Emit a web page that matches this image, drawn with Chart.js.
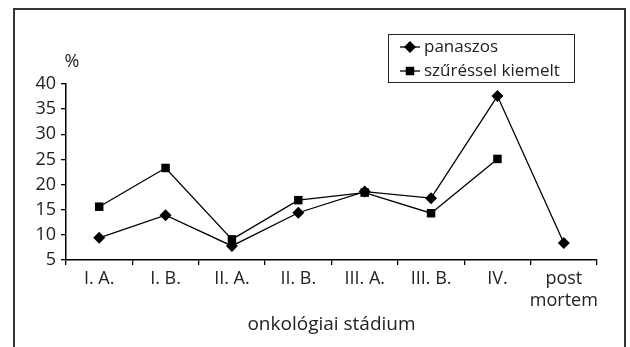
<!DOCTYPE html>
<html>
<head>
<meta charset="utf-8">
<script src="https://cdn.jsdelivr.net/npm/chart.js@4.4.1/dist/chart.umd.min.js"></script>
<style>
  body { margin: 0; background: #fff; }
</style>
</head>
<body>
<canvas id="grafikon" width="630" height="347"></canvas>
<script>
// adatok
const kategoriak = ['I. A.', 'I. B.', 'II. A.', 'II. B.', 'III. A.', 'III. B.', 'IV.', ['post', 'mortem']];
const panaszos = [9.4, 13.9, 7.8, 14.4, 18.6, 17.3, 37.6, 8.4];
const szuressel = [15.6, 23.3, 9.1, 16.9, 18.4, 14.3, 25.1, null];
const yMin = 5;
const yMax = 40;
const yLepes = 5;

const betu = "'Open Sans', sans-serif";
Chart.defaults.font.family = betu;
Chart.defaults.font.size = 18;
Chart.defaults.color = '#222';

// keret, % jel es jelmagyarazat
const keretPlugin = {
  id: 'keret',
  beforeDraw(chart) {
    const ctx = chart.ctx;
    ctx.save();
    ctx.fillStyle = '#fff';
    ctx.fillRect(0, 0, chart.width, chart.height);
    ctx.strokeStyle = '#333';
    ctx.lineWidth = 2;
    ctx.beginPath();
    ctx.moveTo(14, 360);
    ctx.lineTo(14, 9);
    ctx.lineTo(625, 9);
    ctx.lineTo(625, 360);
    ctx.stroke();
    ctx.restore();
  },
  afterDraw(chart) {
    const ctx = chart.ctx;
    ctx.save();
    ctx.fillStyle = '#222';
    ctx.font = '18px ' + betu;
    ctx.textAlign = 'center';
    ctx.textBaseline = 'middle';
    ctx.fillText('%', 72, 62);

    // jelmagyarazat doboz
    ctx.font = '17px ' + betu;
    ctx.strokeStyle = '#222';
    ctx.lineWidth = 1;
    ctx.strokeRect(388.5, 34.5, 186, 48);
    ctx.textAlign = 'left';
    chart.data.datasets.forEach((ds, i) => {
      const y = 47 + i * 24;
      ctx.strokeStyle = '#000';
      ctx.lineWidth = 1.3;
      ctx.beginPath();
      ctx.moveTo(400, y);
      ctx.lineTo(420, y);
      ctx.stroke();
      ctx.fillStyle = '#000';
      Chart.helpers.drawPoint(ctx, {
        pointStyle: ds.pointStyle,
        radius: ds.pointRadius,
        borderWidth: 0
      }, 410, y);
      ctx.fillStyle = '#222';
      ctx.fillText(ds.label, 424, y);
    });
    ctx.restore();
  }
};

const ctx = document.getElementById('grafikon').getContext('2d');
new Chart(ctx, {
  type: 'line',
  data: {
    labels: kategoriak,
    datasets: [
      {
        label: 'panaszos',
        data: panaszos,
        borderColor: '#000',
        backgroundColor: '#000',
        borderWidth: 1.3,
        pointStyle: 'rectRot',
        pointRadius: 6,
        pointBorderWidth: 0,
        tension: 0
      },
      {
        label: 'szűréssel kiemelt',
        data: szuressel,
        borderColor: '#000',
        backgroundColor: '#000',
        borderWidth: 1.3,
        pointStyle: 'rect',
        pointRadius: 6,
        pointBorderWidth: 0,
        tension: 0
      }
    ]
  },
  options: {
    responsive: false,
    animation: false,
    layout: { padding: { top: 84, right: 33, bottom: 11, left: 0 } },
    plugins: {
      legend: { display: false },
      tooltip: { enabled: false }
    },
    scales: {
      x: {
        offset: true,
        grid: { offset: true, drawOnChartArea: false, drawTicks: true, tickLength: 5, color: '#000', lineWidth: 1.3 },
        border: { color: '#000', width: 1.5 },
        ticks: { padding: 3, maxRotation: 0, autoSkip: false, color: '#222' },
        title: { display: true, text: 'onkológiai stádium', padding: 0, color: '#222', font: { size: 19 } },
        afterFit(scale) { scale.height = 76; }
      },
      y: {
        min: yMin,
        max: yMax,
        ticks: { stepSize: yLepes, padding: 5, color: '#222' },
        grid: { drawOnChartArea: false, drawTicks: true, tickLength: 5, color: '#000', lineWidth: 1.3 },
        border: { color: '#000', width: 1.5 },
        afterFit(scale) { scale.width = 66; }
      }
    }
  },
  plugins: [keretPlugin]
});
</script>
</body>
</html>
